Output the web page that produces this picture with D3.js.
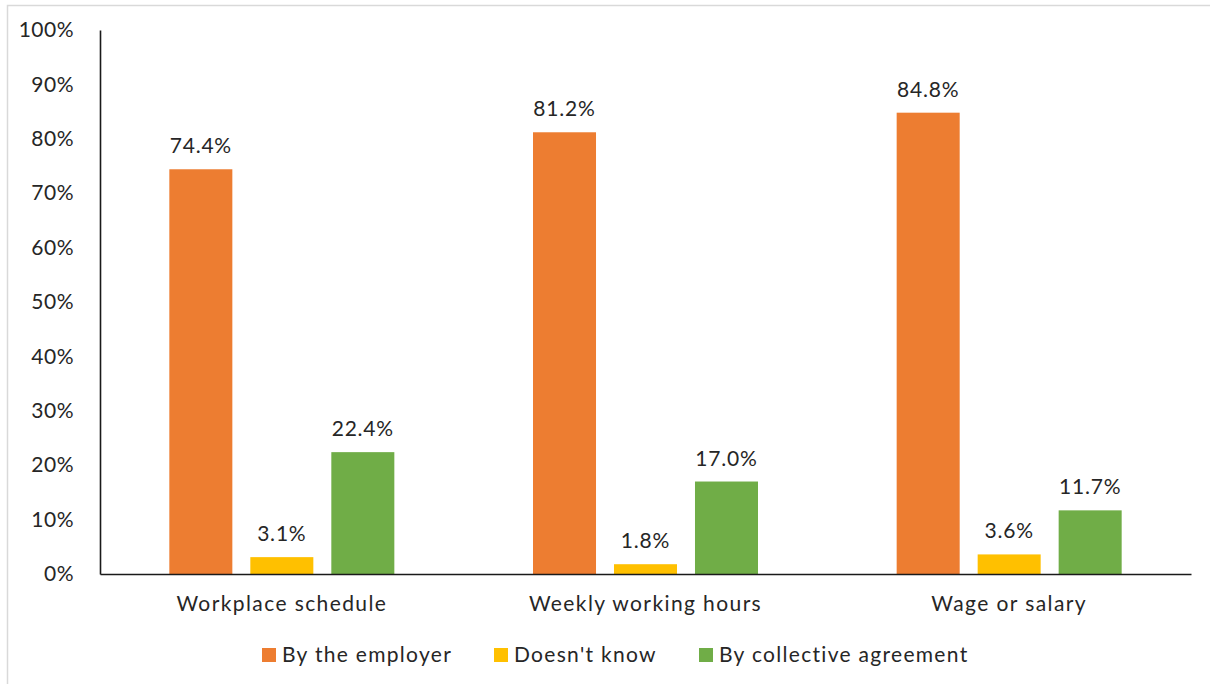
<!DOCTYPE html>
<html>
<head>
<meta charset="utf-8">
<script src="https://cdn.jsdelivr.net/npm/d3@7"></script>
<style>
  html, body { margin: 0; padding: 0; background: #fff; }
  svg { display: block; }
  text { font-family: Lato, "Open Sans", sans-serif; fill: #262626; }
</style>
</head>
<body>
<svg id="chart" width="1210" height="684"></svg>
<script>
// Who sets working conditions, by aspect of the job
const categories = ["Workplace schedule", "Weekly working hours", "Wage or salary"];
const seriesNames = ["By the employer", "Doesn't know", "By collective agreement"];
const byEmployer = [74.4, 81.2, 84.8];
const doesntKnow = [3.1, 1.8, 3.6];
const byCollective = [22.4, 17.0, 11.7];
const yTicks = [0, 10, 20, 30, 40, 50, 60, 70, 80, 90, 100];
const colors = ["#ED7D31", "#FFC000", "#70AD47"];

const seriesValues = [byEmployer, doesntKnow, byCollective];
const rows = categories.map((c, i) => ({
  category: c,
  values: seriesNames.map((s, j) => ({ series: s, value: seriesValues[j][i], color: colors[j] }))
}));

const svg = d3.select("#chart");
const fontSize = 21;

// chart-area frame
svg.append("rect")
  .attr("x", 7.5).attr("y", 5.5)
  .attr("width", 1220).attr("height", 700)
  .attr("fill", "none").attr("stroke", "#d9d9d9").attr("stroke-width", 1.5);

const plot = { left: 100, right: 1191, top: 30, bottom: 574 };

const y = d3.scaleLinear().domain([0, 100]).range([plot.bottom, plot.top]);
const x0 = d3.scaleBand().domain(categories).range([plot.left, plot.right]).padding(0);
const x1 = d3.scaleBand().domain(seriesNames).range([0, x0.bandwidth()])
  .paddingInner(0.222).paddingOuter(0.856);

// y axis
const yAxis = d3.axisLeft(y).tickValues(yTicks).tickSize(0).tickPadding(26)
  .tickFormat(d => d + "%");
const gy = svg.append("g").attr("transform", `translate(${plot.left},0)`).call(yAxis);
gy.select(".domain").attr("stroke", "#1a1a1a").attr("stroke-width", 1.6);
gy.selectAll("text").style("font-size", fontSize + "px").attr("fill", "#262626")
  .style("font-family", "Lato, 'Open Sans', sans-serif")
  .style("letter-spacing", "0.5px");

// bars
const groups = svg.selectAll("g.cat").data(rows).join("g")
  .attr("class", "cat")
  .attr("transform", d => `translate(${x0(d.category)},0)`);

groups.selectAll("rect").data(d => d.values).join("rect")
  .attr("x", d => x1(d.series))
  .attr("width", x1.bandwidth())
  .attr("y", d => y(d.value))
  .attr("height", d => y(0) - y(d.value))
  .attr("fill", d => d.color);

groups.selectAll("text.val").data(d => d.values).join("text")
  .attr("class", "val")
  .attr("x", d => x1(d.series) + x1.bandwidth() / 2)
  .attr("y", d => y(d.value) - 16)
  .attr("text-anchor", "middle")
  .style("font-size", fontSize + "px")
  .style("letter-spacing", "0.8px")
  .text(d => d.value.toFixed(1) + "%");

// x axis
const xAxis = d3.axisBottom(x0).tickSize(0).tickPadding(22);
const gx = svg.append("g").attr("transform", `translate(0,${plot.bottom})`).call(xAxis);
gx.select(".domain").attr("stroke", "#1a1a1a").attr("stroke-width", 1.6);
gx.selectAll("text").style("font-size", fontSize + "px").attr("fill", "#262626")
  .style("font-family", "Lato, 'Open Sans', sans-serif")
  .style("letter-spacing", "1.4px");

// legend
const legendX = [262, 494, 699];
const legend = svg.selectAll("g.legend").data(seriesNames).join("g")
  .attr("class", "legend")
  .attr("transform", (d, i) => `translate(${legendX[i]},648)`);
legend.append("rect").attr("width", 14).attr("height", 14).attr("fill", (d, i) => colors[i]);
legend.append("text").attr("x", 20).attr("y", 7).attr("dy", "0.35em")
  .style("font-size", fontSize + "px")
  .style("letter-spacing", "1.3px")
  .text(d => d);
</script>
</body>
</html>
